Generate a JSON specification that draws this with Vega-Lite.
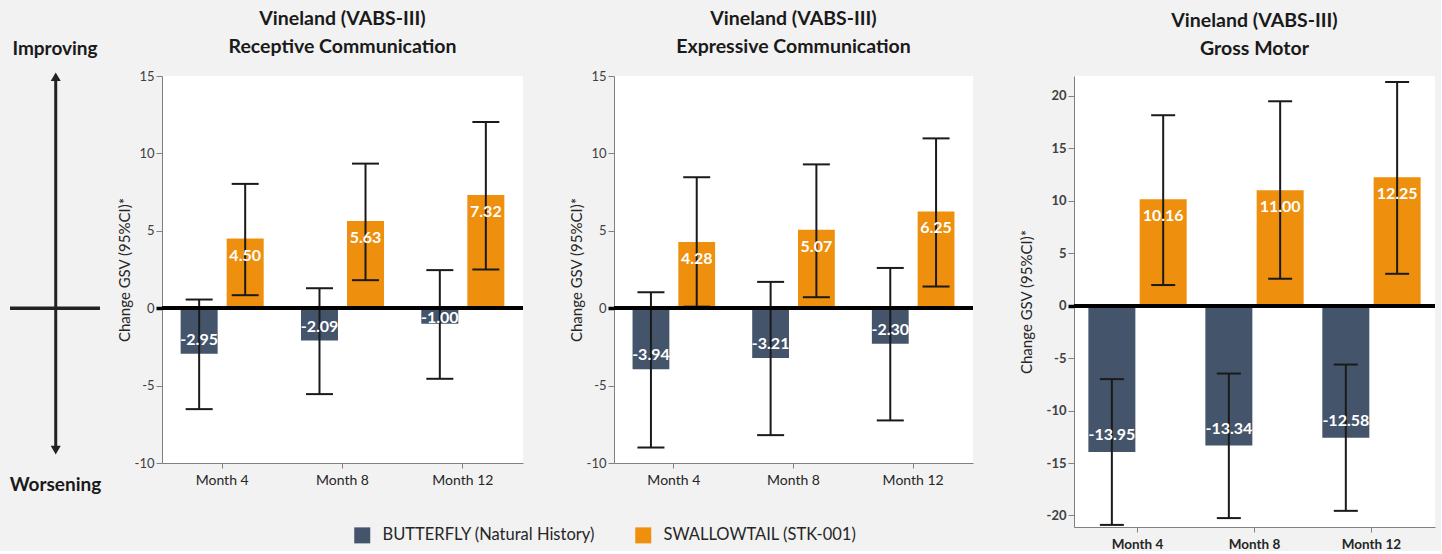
{
  "$schema": "https://vega.github.io/schema/vega-lite/v6.json",
  "background": "#f2f2f2",
  "padding": {"left": 8, "top": 9, "right": 4, "bottom": 0},
  "config": {
    "font": "Lato",
    "locale": {"number": {"decimal": ".", "thousands": ",", "grouping": [3], "currency": ["$", ""], "minus": "-"}},
    "view": {"stroke": null, "fill": "white"},
    "axis": {"grid": false},
    "title": {"fontSize": 19.5, "fontWeight": "bold", "font": "Lato", "color": "#1a1a1a", "lineHeight": 27.5, "frame": "group", "anchor": "middle", "offset": 13}
  },
  "datasets": {
    "ann": [{"arrowX": 0.508, "headTop": 14.95, "headBottom": -9.17, "lineStart": 0, "lineEnd": 1, "level": 0}],
    "rc": [
      {"month": "Month 4", "group": "BUTTERFLY (Natural History)", "value": -2.95, "lo": -6.52, "hi": 0.56},
      {"month": "Month 4", "group": "SWALLOWTAIL (STK-001)", "value": 4.50, "lo": 0.84, "hi": 8.03},
      {"month": "Month 8", "group": "BUTTERFLY (Natural History)", "value": -2.09, "lo": -5.55, "hi": 1.29},
      {"month": "Month 8", "group": "SWALLOWTAIL (STK-001)", "value": 5.63, "lo": 1.81, "hi": 9.34},
      {"month": "Month 12", "group": "BUTTERFLY (Natural History)", "value": -1.00, "lo": -4.56, "hi": 2.46},
      {"month": "Month 12", "group": "SWALLOWTAIL (STK-001)", "value": 7.32, "lo": 2.50, "hi": 12.03}
    ],
    "ec": [
      {"month": "Month 4", "group": "BUTTERFLY (Natural History)", "value": -3.94, "lo": -9.0, "hi": 1.03},
      {"month": "Month 4", "group": "SWALLOWTAIL (STK-001)", "value": 4.28, "lo": 0.10, "hi": 8.46},
      {"month": "Month 8", "group": "BUTTERFLY (Natural History)", "value": -3.21, "lo": -8.2, "hi": 1.70},
      {"month": "Month 8", "group": "SWALLOWTAIL (STK-001)", "value": 5.07, "lo": 0.71, "hi": 9.29},
      {"month": "Month 12", "group": "BUTTERFLY (Natural History)", "value": -2.30, "lo": -7.25, "hi": 2.60},
      {"month": "Month 12", "group": "SWALLOWTAIL (STK-001)", "value": 6.25, "lo": 1.40, "hi": 10.97}
    ],
    "gm": [
      {"month": "Month 4", "group": "BUTTERFLY (Natural History)", "value": -13.95, "lo": -20.9, "hi": -7.0},
      {"month": "Month 4", "group": "SWALLOWTAIL (STK-001)", "value": 10.16, "lo": 1.97, "hi": 18.16},
      {"month": "Month 8", "group": "BUTTERFLY (Natural History)", "value": -13.34, "lo": -20.25, "hi": -6.47},
      {"month": "Month 8", "group": "SWALLOWTAIL (STK-001)", "value": 11.00, "lo": 2.57, "hi": 19.49},
      {"month": "Month 12", "group": "BUTTERFLY (Natural History)", "value": -12.58, "lo": -19.56, "hi": -5.61},
      {"month": "Month 12", "group": "SWALLOWTAIL (STK-001)", "value": 12.25, "lo": 3.04, "hi": 21.33}
    ]
  },
  "spacing": 15,
  "hconcat": [
    {
      "width": 90,
      "height": 387,
      "view": {"fill": null, "stroke": null},
      "title": {"text": [" ", "Improving"], "fontSize": 19, "lineHeight": 27.5},
      "data": {"name": "ann"},
      "layer": [
        {
          "mark": {"type": "rule", "strokeWidth": 3, "color": "#222222"},
          "encoding": {
            "x": {"field": "arrowX", "type": "quantitative", "scale": {"domain": [0, 1], "nice": false, "zero": false},
                  "axis": {"title": "Worsening", "labels": false, "ticks": false, "domain": false, "titleFontSize": 19, "titleFontWeight": "bold", "titleColor": "#1a1a1a", "titlePadding": 12}},
            "y": {"field": "headTop", "type": "quantitative", "scale": {"domain": [-10, 15], "nice": false, "zero": false}, "axis": null},
            "y2": {"field": "headBottom"}
          }
        },
        {
          "mark": {"type": "rule", "strokeWidth": 3.5, "color": "#222222"},
          "encoding": {
            "x": {"field": "lineStart", "type": "quantitative"},
            "x2": {"field": "lineEnd"},
            "y": {"field": "level", "type": "quantitative"}
          }
        },
        {
          "mark": {"type": "point", "shape": "triangle-up", "filled": true, "size": 100, "color": "#222222", "opacity": 1},
          "encoding": {
            "x": {"field": "arrowX", "type": "quantitative"},
            "y": {"field": "headTop", "type": "quantitative"}
          }
        },
        {
          "mark": {"type": "point", "shape": "triangle-down", "filled": true, "size": 100, "color": "#222222", "opacity": 1},
          "encoding": {
            "x": {"field": "arrowX", "type": "quantitative"},
            "y": {"field": "headBottom", "type": "quantitative"}
          }
        }
      ]
    },
    {
      "spacing": 44,
      "resolve": {"scale": {"xOffset": "independent"}},
      "hconcat": [
        {
          "width": 361,
          "height": 387,
          "title": {"text": ["Vineland (VABS-III)", "Receptive Communication"], "lineHeight": 27.5},
          "data": {"name": "rc"},
          "layer": [
            {
              "mark": {"type": "bar"},
              "encoding": {
                "x": {"field": "month", "type": "nominal", "sort": ["Month 4", "Month 8", "Month 12"], "scale": {"paddingInner": 0, "paddingOuter": 0},
                      "axis": {"title": null, "labelAngle": 0, "labelFontSize": 14, "labelColor": "#262626", "labelPadding": 5, "tickSize": 5, "domainColor": "#808080", "tickColor": "#808080"}},
                "xOffset": {"field": "group", "type": "nominal", "sort": ["BUTTERFLY (Natural History)", "SWALLOWTAIL (STK-001)"], "scale": {"paddingInner": 0.196, "paddingOuter": 0.405}},
                "y": {"field": "value", "type": "quantitative", "scale": {"domain": [-10, 15], "nice": false, "zero": false},
                      "axis": {"values": [-10, -5, 0, 5, 10, 15], "title": "Change GSV (95%CI)*", "titleFontSize": 15, "titleFontWeight": "normal", "titleColor": "#262626", "titlePadding": 2, "labelFontSize": 13, "labelColor": "#404040", "labelPadding": 2, "tickSize": 6, "domainColor": "#808080",
                               "tickColor": {"condition": {"test": "datum.value === 0", "value": "#000000"}, "value": "#808080"},
                               "tickWidth": {"condition": {"test": "datum.value === 0", "value": 3.5}, "value": 1}}},
                "color": {"field": "group", "type": "nominal", "scale": {"domain": ["BUTTERFLY (Natural History)", "SWALLOWTAIL (STK-001)"], "range": ["#44546A", "#EE8F0E"]},
                          "legend": {"orient": "none", "legendX": 344, "legendY": 451, "direction": "horizontal", "columns": 2, "title": null, "symbolType": "square", "symbolSize": 256, "symbolStrokeWidth": 0, "symbolOpacity": 1, "labelFontSize": 16.5, "labelFont": "Lato", "labelColor": "#262626", "labelOffset": 12, "columnPadding": 40, "labelLimit": 400}}
              }
            },
            {
              "mark": {"type": "rule", "color": "#1a1a1a", "strokeWidth": 2},
              "encoding": {
                "x": {"field": "month", "type": "nominal", "sort": ["Month 4", "Month 8", "Month 12"]},
                "xOffset": {"field": "group", "type": "nominal", "sort": ["BUTTERFLY (Natural History)", "SWALLOWTAIL (STK-001)"]},
                "y": {"field": "lo", "type": "quantitative"},
                "y2": {"field": "hi"}
              }
            },
            {
              "mark": {"type": "tick", "color": "#1a1a1a", "thickness": 2, "size": 27, "opacity": 1},
              "encoding": {
                "x": {"field": "month", "type": "nominal", "sort": ["Month 4", "Month 8", "Month 12"]},
                "xOffset": {"field": "group", "type": "nominal", "sort": ["BUTTERFLY (Natural History)", "SWALLOWTAIL (STK-001)"]},
                "y": {"field": "lo", "type": "quantitative"}
              }
            },
            {
              "mark": {"type": "tick", "color": "#1a1a1a", "thickness": 2, "size": 27, "opacity": 1},
              "encoding": {
                "x": {"field": "month", "type": "nominal", "sort": ["Month 4", "Month 8", "Month 12"]},
                "xOffset": {"field": "group", "type": "nominal", "sort": ["BUTTERFLY (Natural History)", "SWALLOWTAIL (STK-001)"]},
                "y": {"field": "hi", "type": "quantitative"}
              }
            },
            {
              "mark": {"type": "rule", "color": "#000000", "strokeWidth": 3.5},
              "encoding": {"y": {"datum": 0}}
            },
            {
              "transform": [{"filter": "datum.value >= 0"}],
              "mark": {"type": "text", "color": "white", "fontWeight": "bold", "fontSize": 16, "dy": 17},
              "encoding": {
                "x": {"field": "month", "type": "nominal", "sort": ["Month 4", "Month 8", "Month 12"]},
                "xOffset": {"field": "group", "type": "nominal", "sort": ["BUTTERFLY (Natural History)", "SWALLOWTAIL (STK-001)"]},
                "y": {"field": "value", "type": "quantitative"},
                "text": {"field": "value", "type": "quantitative", "format": ".2f"}
              }
            },
            {
              "transform": [{"filter": "datum.value <= -1.5"}],
              "mark": {"type": "text", "color": "white", "fontWeight": "bold", "fontSize": 16, "dy": -14},
              "encoding": {
                "x": {"field": "month", "type": "nominal", "sort": ["Month 4", "Month 8", "Month 12"]},
                "xOffset": {"field": "group", "type": "nominal", "sort": ["BUTTERFLY (Natural History)", "SWALLOWTAIL (STK-001)"]},
                "y": {"field": "value", "type": "quantitative"},
                "text": {"field": "value", "type": "quantitative", "format": ".2f"}
              }
            },
            {
              "transform": [{"filter": "datum.value < 0 && datum.value > -1.5"}],
              "mark": {"type": "text", "color": "white", "fontWeight": "bold", "fontSize": 16, "dy": -6},
              "encoding": {
                "x": {"field": "month", "type": "nominal", "sort": ["Month 4", "Month 8", "Month 12"]},
                "xOffset": {"field": "group", "type": "nominal", "sort": ["BUTTERFLY (Natural History)", "SWALLOWTAIL (STK-001)"]},
                "y": {"field": "value", "type": "quantitative"},
                "text": {"field": "value", "type": "quantitative", "format": ".2f"}
              }
            }
          ]
        },
        {
          "width": 359,
          "height": 387,
          "title": {"text": ["Vineland (VABS-III)", "Expressive Communication"], "lineHeight": 27.5},
          "data": {"name": "ec"},
          "layer": [
            {
              "mark": {"type": "bar"},
              "encoding": {
                "x": {"field": "month", "type": "nominal", "sort": ["Month 4", "Month 8", "Month 12"], "scale": {"paddingInner": 0, "paddingOuter": 0},
                      "axis": {"title": null, "labelAngle": 0, "labelFontSize": 14, "labelColor": "#262626", "labelPadding": 5, "tickSize": 5, "domainColor": "#808080", "tickColor": "#808080"}},
                "xOffset": {"field": "group", "type": "nominal", "sort": ["BUTTERFLY (Natural History)", "SWALLOWTAIL (STK-001)"], "scale": {"paddingInner": 0.196, "paddingOuter": 0.405}},
                "y": {"field": "value", "type": "quantitative", "scale": {"domain": [-10, 15], "nice": false, "zero": false},
                      "axis": {"values": [-10, -5, 0, 5, 10, 15], "title": "Change GSV (95%CI)*", "titleFontSize": 15, "titleFontWeight": "normal", "titleColor": "#262626", "titlePadding": 2, "labelFontSize": 13, "labelColor": "#404040", "labelPadding": 2, "tickSize": 6, "domainColor": "#808080",
                               "tickColor": {"condition": {"test": "datum.value === 0", "value": "#000000"}, "value": "#808080"},
                               "tickWidth": {"condition": {"test": "datum.value === 0", "value": 3.5}, "value": 1}}},
                "color": {"field": "group", "type": "nominal", "scale": {"domain": ["BUTTERFLY (Natural History)", "SWALLOWTAIL (STK-001)"], "range": ["#44546A", "#EE8F0E"]},
                          "legend": {"orient": "none", "legendX": 344, "legendY": 451, "direction": "horizontal", "columns": 2, "title": null, "symbolType": "square", "symbolSize": 256, "symbolStrokeWidth": 0, "symbolOpacity": 1, "labelFontSize": 16.5, "labelFont": "Lato", "labelColor": "#262626", "labelOffset": 12, "columnPadding": 40, "labelLimit": 400}}
              }
            },
            {
              "mark": {"type": "rule", "color": "#1a1a1a", "strokeWidth": 2},
              "encoding": {
                "x": {"field": "month", "type": "nominal", "sort": ["Month 4", "Month 8", "Month 12"]},
                "xOffset": {"field": "group", "type": "nominal", "sort": ["BUTTERFLY (Natural History)", "SWALLOWTAIL (STK-001)"]},
                "y": {"field": "lo", "type": "quantitative"},
                "y2": {"field": "hi"}
              }
            },
            {
              "mark": {"type": "tick", "color": "#1a1a1a", "thickness": 2, "size": 27, "opacity": 1},
              "encoding": {
                "x": {"field": "month", "type": "nominal", "sort": ["Month 4", "Month 8", "Month 12"]},
                "xOffset": {"field": "group", "type": "nominal", "sort": ["BUTTERFLY (Natural History)", "SWALLOWTAIL (STK-001)"]},
                "y": {"field": "lo", "type": "quantitative"}
              }
            },
            {
              "mark": {"type": "tick", "color": "#1a1a1a", "thickness": 2, "size": 27, "opacity": 1},
              "encoding": {
                "x": {"field": "month", "type": "nominal", "sort": ["Month 4", "Month 8", "Month 12"]},
                "xOffset": {"field": "group", "type": "nominal", "sort": ["BUTTERFLY (Natural History)", "SWALLOWTAIL (STK-001)"]},
                "y": {"field": "hi", "type": "quantitative"}
              }
            },
            {
              "mark": {"type": "rule", "color": "#000000", "strokeWidth": 3.5},
              "encoding": {"y": {"datum": 0}}
            },
            {
              "transform": [{"filter": "datum.value >= 0"}],
              "mark": {"type": "text", "color": "white", "fontWeight": "bold", "fontSize": 16, "dy": 17},
              "encoding": {
                "x": {"field": "month", "type": "nominal", "sort": ["Month 4", "Month 8", "Month 12"]},
                "xOffset": {"field": "group", "type": "nominal", "sort": ["BUTTERFLY (Natural History)", "SWALLOWTAIL (STK-001)"]},
                "y": {"field": "value", "type": "quantitative"},
                "text": {"field": "value", "type": "quantitative", "format": ".2f"}
              }
            },
            {
              "transform": [{"filter": "datum.value < 0"}],
              "mark": {"type": "text", "color": "white", "fontWeight": "bold", "fontSize": 16, "dy": -14},
              "encoding": {
                "x": {"field": "month", "type": "nominal", "sort": ["Month 4", "Month 8", "Month 12"]},
                "xOffset": {"field": "group", "type": "nominal", "sort": ["BUTTERFLY (Natural History)", "SWALLOWTAIL (STK-001)"]},
                "y": {"field": "value", "type": "quantitative"},
                "text": {"field": "value", "type": "quantitative", "format": ".2f"}
              }
            }
          ]
        },
        {
          "width": 361,
          "height": 451,
          "title": {"text": ["Vineland (VABS-III)", "Gross Motor"], "lineHeight": 27.5, "offset": 17},
          "data": {"name": "gm"},
          "layer": [
            {
              "mark": {"type": "bar"},
              "encoding": {
                "x": {"field": "month", "type": "nominal", "sort": ["Month 4", "Month 8", "Month 12"], "scale": {"paddingInner": 0, "paddingOuter": 0.043},
                      "axis": {"title": null, "labelAngle": 0, "labelFontSize": 13.5, "labelFontWeight": "bold", "labelColor": "#262626", "labelPadding": 5, "tickSize": 5, "domainColor": "#808080", "tickColor": "#808080"}},
                "xOffset": {"field": "group", "type": "nominal", "sort": ["BUTTERFLY (Natural History)", "SWALLOWTAIL (STK-001)"], "scale": {"paddingInner": 0.084, "paddingOuter": 0.182}},
                "y": {"field": "value", "type": "quantitative", "scale": {"domain": [-21.1, 21.9], "nice": false, "zero": false},
                      "axis": {"values": [-20, -15, -10, -5, 0, 5, 10, 15, 20], "title": "Change GSV (95%CI)*", "titleFontSize": 15, "titleFontWeight": "normal", "titleColor": "#262626", "titlePadding": 12, "labelFontSize": 13, "labelFontWeight": "bold", "labelColor": "#404040", "labelPadding": 2, "tickSize": 6, "domainColor": "#808080",
                               "tickColor": {"condition": {"test": "datum.value === 0", "value": "#000000"}, "value": "#808080"},
                               "tickWidth": {"condition": {"test": "datum.value === 0", "value": 3.5}, "value": 1}}},
                "color": {"field": "group", "type": "nominal", "scale": {"domain": ["BUTTERFLY (Natural History)", "SWALLOWTAIL (STK-001)"], "range": ["#44546A", "#EE8F0E"]},
                          "legend": {"orient": "none", "legendX": 344, "legendY": 451, "direction": "horizontal", "columns": 2, "title": null, "symbolType": "square", "symbolSize": 256, "symbolStrokeWidth": 0, "symbolOpacity": 1, "labelFontSize": 16.5, "labelFont": "Lato", "labelColor": "#262626", "labelOffset": 12, "columnPadding": 40, "labelLimit": 400}}
              }
            },
            {
              "mark": {"type": "rule", "color": "#1a1a1a", "strokeWidth": 2},
              "encoding": {
                "x": {"field": "month", "type": "nominal", "sort": ["Month 4", "Month 8", "Month 12"]},
                "xOffset": {"field": "group", "type": "nominal", "sort": ["BUTTERFLY (Natural History)", "SWALLOWTAIL (STK-001)"]},
                "y": {"field": "lo", "type": "quantitative"},
                "y2": {"field": "hi"}
              }
            },
            {
              "mark": {"type": "tick", "color": "#1a1a1a", "thickness": 2, "size": 24, "opacity": 1},
              "encoding": {
                "x": {"field": "month", "type": "nominal", "sort": ["Month 4", "Month 8", "Month 12"]},
                "xOffset": {"field": "group", "type": "nominal", "sort": ["BUTTERFLY (Natural History)", "SWALLOWTAIL (STK-001)"]},
                "y": {"field": "lo", "type": "quantitative"}
              }
            },
            {
              "mark": {"type": "tick", "color": "#1a1a1a", "thickness": 2, "size": 24, "opacity": 1},
              "encoding": {
                "x": {"field": "month", "type": "nominal", "sort": ["Month 4", "Month 8", "Month 12"]},
                "xOffset": {"field": "group", "type": "nominal", "sort": ["BUTTERFLY (Natural History)", "SWALLOWTAIL (STK-001)"]},
                "y": {"field": "hi", "type": "quantitative"}
              }
            },
            {
              "mark": {"type": "rule", "color": "#000000", "strokeWidth": 3.5},
              "encoding": {"y": {"datum": 0}}
            },
            {
              "transform": [{"filter": "datum.value >= 0"}],
              "mark": {"type": "text", "color": "white", "fontWeight": "bold", "fontSize": 16, "dy": 17},
              "encoding": {
                "x": {"field": "month", "type": "nominal", "sort": ["Month 4", "Month 8", "Month 12"]},
                "xOffset": {"field": "group", "type": "nominal", "sort": ["BUTTERFLY (Natural History)", "SWALLOWTAIL (STK-001)"]},
                "y": {"field": "value", "type": "quantitative"},
                "text": {"field": "value", "type": "quantitative", "format": ".2f"}
              }
            },
            {
              "transform": [{"filter": "datum.value < 0"}],
              "mark": {"type": "text", "color": "white", "fontWeight": "bold", "fontSize": 16, "dy": -17},
              "encoding": {
                "x": {"field": "month", "type": "nominal", "sort": ["Month 4", "Month 8", "Month 12"]},
                "xOffset": {"field": "group", "type": "nominal", "sort": ["BUTTERFLY (Natural History)", "SWALLOWTAIL (STK-001)"]},
                "y": {"field": "value", "type": "quantitative"},
                "text": {"field": "value", "type": "quantitative", "format": ".2f"}
              }
            }
          ]
        }
      ]
    }
  ]
}
